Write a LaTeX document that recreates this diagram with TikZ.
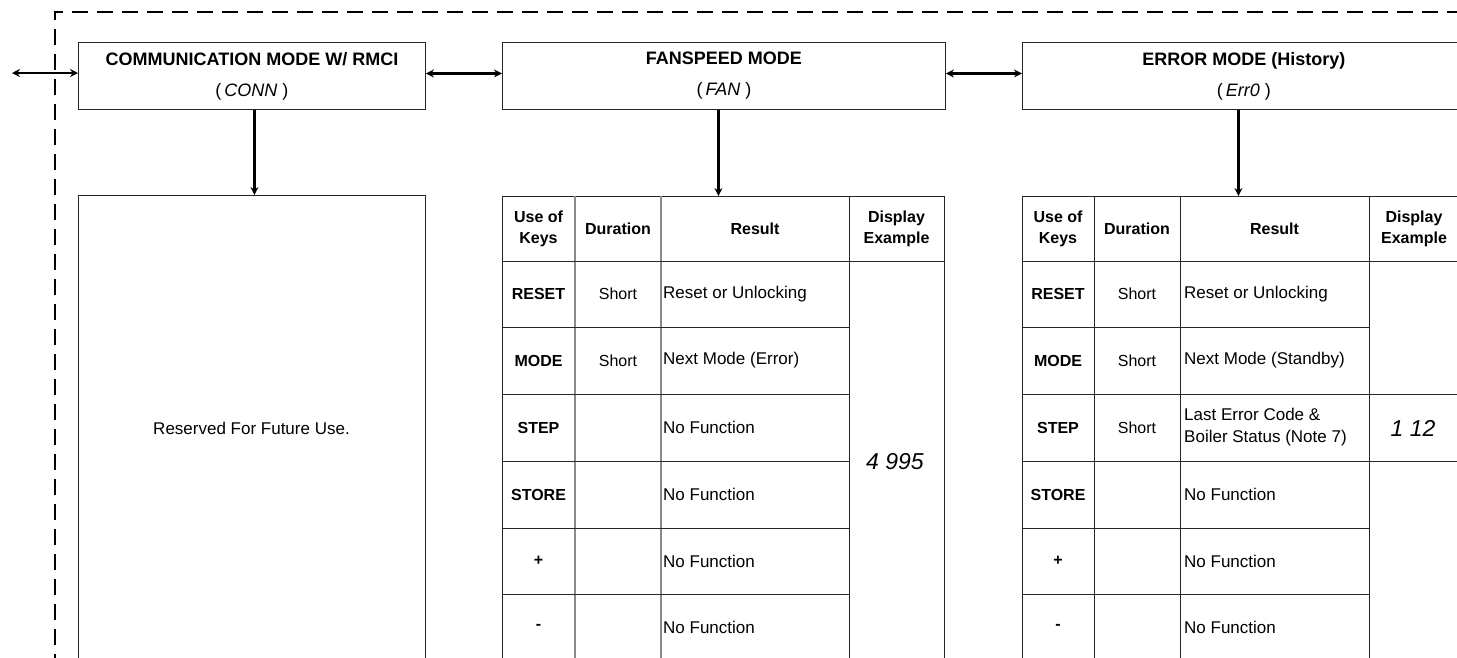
\documentclass[tikz,border=0pt]{standalone}
\usepackage{fontspec}
\setmainfont{Liberation Sans}
\usetikzlibrary{arrows.meta}
\begin{document}
\begin{tikzpicture}[x=1pt,y=-1pt,
  box/.style={draw=black!85, line width=0.9pt, rectangle, inner sep=0pt},
  hdrtxt/.style={align=center, font=\fontsize{18}{31}\selectfont},
  arr/.style={line width=2.4pt, -{Stealth[length=8pt,width=8pt]}},
  dbl/.style={line width=2.4pt, {Stealth[length=8pt,width=8pt]}-{Stealth[length=8pt,width=8pt]}},
  gridk/.style={draw=black!85, line width=0.9pt},
  gridg/.style={draw=black!45, line width=1.6pt},
  keyt/.style={font=\bfseries\fontsize{16}{21}\selectfont, align=center, inner sep=0pt},
  durt/.style={font=\fontsize{16}{20}\selectfont, inner sep=0pt},
  rest/.style={font=\fontsize{17}{22}\selectfont, anchor=west, inner sep=0pt, align=left},
  segt/.style={font=\itshape\fontsize{23}{23}\selectfont, inner sep=0pt},
  frame/.style={line width=2.2pt, dash pattern=on 16pt off 9pt}
]
\useasboundingbox (0,0) rectangle (1457,657);
\begin{scope}
\clip (0,0) rectangle (1457,657);
% dashed frame
\draw[frame] (55,720) -- (55,12) -- (1500,12);

% header boxes
\node[box, hdrtxt, minimum width=347pt, minimum height=67pt, anchor=north west] (comm) at (78,42)
  {\textbf{COMMUNICATION MODE W/ RMCI}\\(\,\textit{CONN} )};
\node[box, hdrtxt, minimum width=443pt, minimum height=67pt, anchor=north west] (fan) at (502,42)
  {\textbf{FANSPEED MODE}\\(\,\textit{FAN} )};
\node[box, hdrtxt, minimum width=443pt, minimum height=67pt, anchor=north west] (err) at (1022,42)
  {\textbf{ERROR MODE (History)}\\(\,\textit{Err0} )};

% horizontal connectors
\coordinate (lft) at (12,73);
\draw[dbl] (lft) -- (lft -| comm.west);
\draw[dbl] ([yshift=2.5pt]comm.east) -- ([yshift=2.5pt]fan.west);
\draw[dbl] ([yshift=2.5pt]fan.east) -- ([yshift=2.5pt]err.west);

% lower boxes / tables
\node[box, minimum width=347pt, minimum height=540pt, anchor=north west] (res) at (78,195) {};
\node[font=\fontsize{17}{20}\selectfont, inner sep=0pt] (restxt) at (251.5,428) {Reserved For Future Use.};

\node[box, minimum width=442pt, minimum height=540pt, anchor=north west] (fant) at (502,196) {};
\node[box, minimum width=442pt, minimum height=540pt, anchor=north west] (errt) at (1022,196) {};

% vertical connectors
\draw[arr] ([xshift=2.5pt]comm.south) -- ([xshift=2.5pt]comm.south |- res.north);
\draw[arr] ([xshift=-5.5pt]fan.south) -- ([xshift=-5.5pt]fan.south |- fant.north);
\draw[arr] ([xshift=-5.5pt]err.south) -- ([xshift=-5.5pt]err.south |- errt.north);

% FAN table grid
\draw[gridg] (575,196) -- (575,740);
\draw[gridg] (661,196) -- (661,740);
\draw[gridk] (849,196) -- (849,740);
\draw[gridk] (502,261) -- (944,261);
\foreach \yy in {327,394,461,528,594} \draw[gridk] (502,\yy) -- (849,\yy);

% ERR table grid
\foreach \xx in {1094,1180,1369} \draw[gridk] (\xx,196) -- (\xx,740);
\foreach \yy in {261,394,461} \draw[gridk] (1022,\yy) -- (1464,\yy);
\foreach \yy in {327,528,594} \draw[gridk] (1022,\yy) -- (1369,\yy);

% FAN table text
\node[keyt] (fh1) at (538.5,228.5) {Use of\\Keys};
\node[keyt] (fh2) at (618,228.5) {Duration};
\node[keyt] (fh3) at (755,228.5) {Result};
\node[keyt] (fh4) at (896.5,228.5) {Display\\Example};
\node[keyt] (fk1) at (538.5,294) {RESET};
\node[keyt] (fk2) at (538.5,360.5) {MODE};
\node[keyt] (fk3) at (538.5,427.5) {STEP};
\node[keyt] (fk4) at (538.5,494.5) {STORE};
\node[keyt] (fk5) at (538.5,561) {+};
\node[keyt] (fk6) at (538.5,627) {-};
\node[durt] (fd1) at (618,294) {Short};
\node[durt] (fd2) at (618,360.5) {Short};
\node[rest] (fr1) at (663,294) {Reset or Unlocking};
\node[rest] (fr2) at (663,360.5) {Next Mode (Error)};
\node[rest] (fr3) at (663,427.5) {No Function};
\node[rest] (fr4) at (663,494.5) {No Function};
\node[rest] (fr5) at (663,561) {No Function};
\node[rest] (fr6) at (663,627) {No Function};
\node[segt] (fdisp) at (895,462) {4 995};

% ERR table text
\node[keyt] (eh1) at (1058,228.5) {Use of\\Keys};
\node[keyt] (eh2) at (1137,228.5) {Duration};
\node[keyt] (eh3) at (1274.5,228.5) {Result};
\node[keyt] (eh4) at (1414,228.5) {Display\\Example};
\node[keyt] (ek1) at (1058,294) {RESET};
\node[keyt] (ek2) at (1058,360.5) {MODE};
\node[keyt] (ek3) at (1058,427.5) {STEP};
\node[keyt] (ek4) at (1058,494.5) {STORE};
\node[keyt] (ek5) at (1058,561) {+};
\node[keyt] (ek6) at (1058,627) {-};
\node[durt] (ed1) at (1137,294) {Short};
\node[durt] (ed2) at (1137,360.5) {Short};
\node[durt] (ed3) at (1137,427.5) {Short};
\node[rest] (er1) at (1184,294) {Reset or Unlocking};
\node[rest] (er2) at (1184,360.5) {Next Mode (Standby)};
\node[rest] (er3) at (1184,427.5) {Last Error Code \&\\Boiler Status (Note 7)};
\node[rest] (er4) at (1184,494.5) {No Function};
\node[rest] (er5) at (1184,561) {No Function};
\node[rest] (er6) at (1184,627) {No Function};
\node[segt] (edisp) at (1413,428) {1 12};
\end{scope}
\end{tikzpicture}
\end{document}
